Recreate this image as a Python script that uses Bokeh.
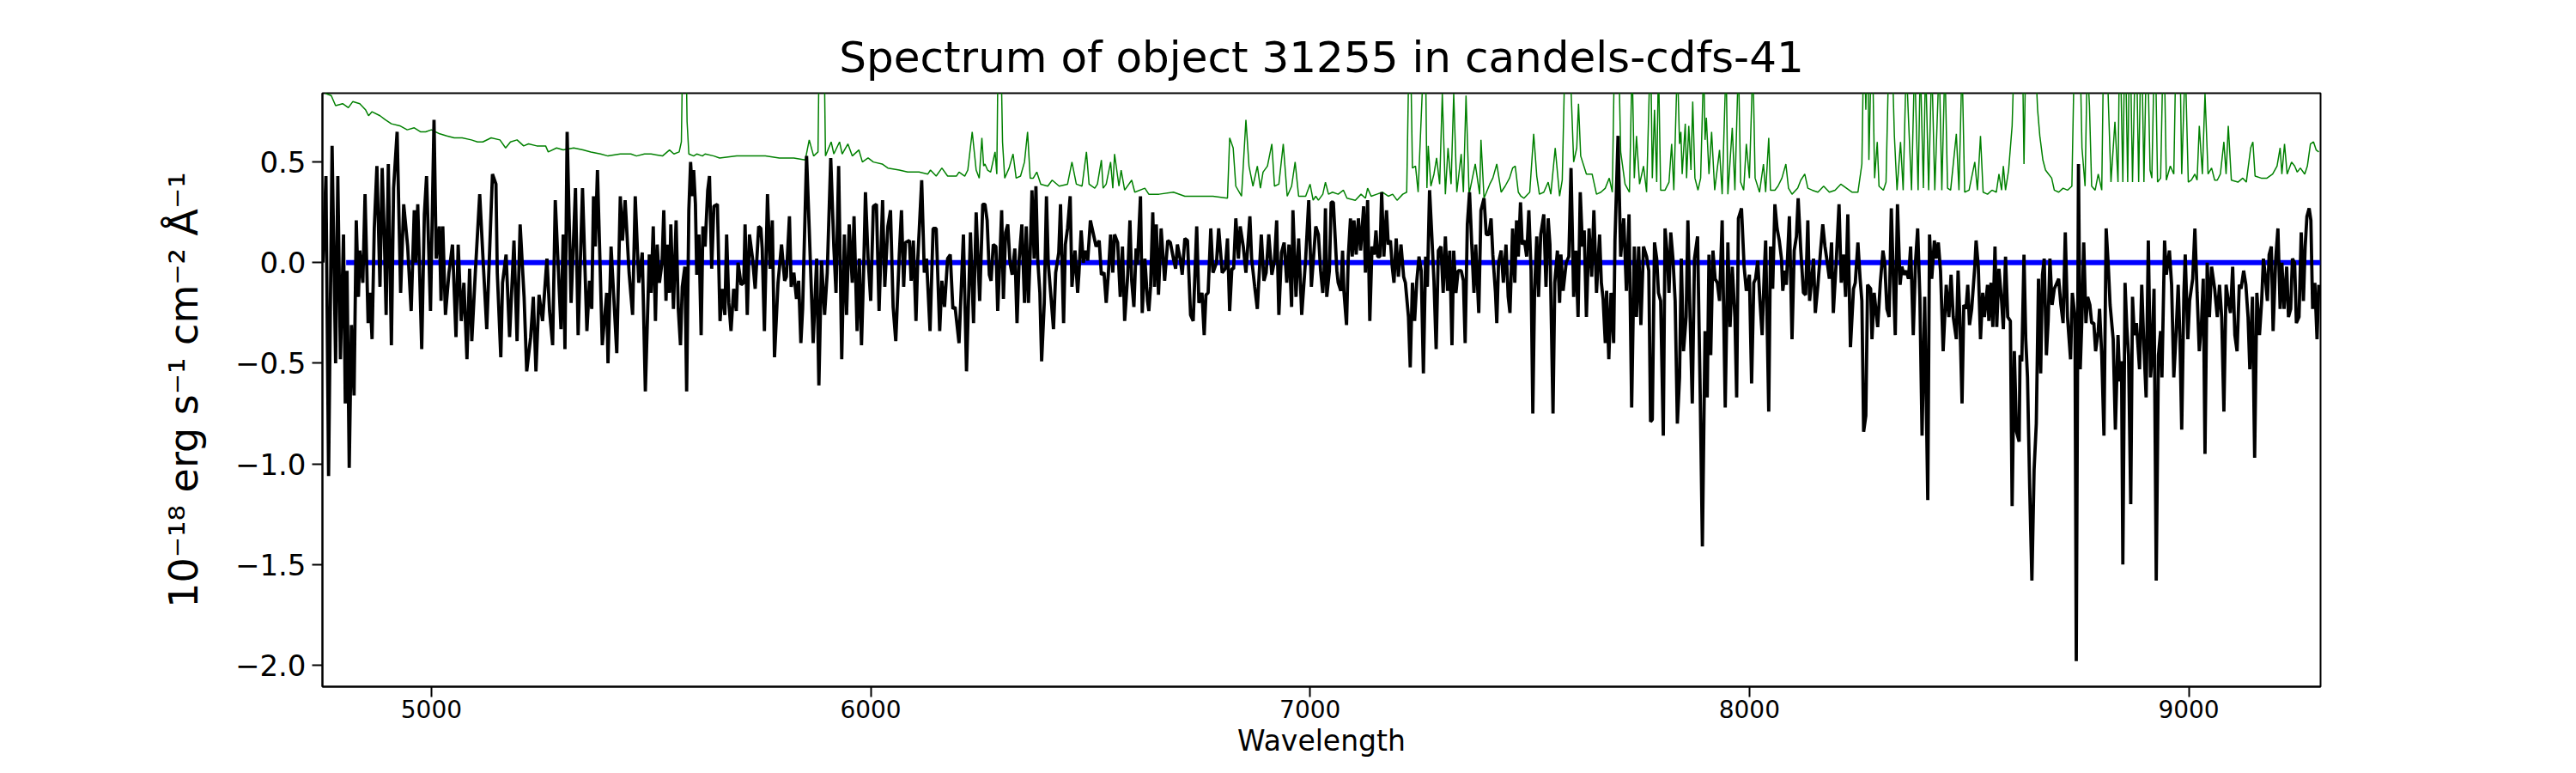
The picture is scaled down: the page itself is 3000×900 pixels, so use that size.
from bokeh.plotting import figure
from bokeh.models import FixedTicker, Range1d
from bokeh.embed import file_html
from bokeh.resources import INLINE

# ---------------- data (wavelength [A], flux [1e-18 erg/s/cm2/A]) ----------------
flux_seg1 = [(4753,0.00),(4760,0.43),(4766,-1.06),(4774,0.58),(4782,-0.50),(4787,0.43),(4793,-0.48),(4800,0.14),(4804,-0.70),(4808,-0.04),(4813,-1.02),(4818,-0.31),(4824,-0.66),(4829,0.21),(4834,-0.17),(4837,0.06),(4844,-0.10),(4849,0.34),(4856,-0.30),(4860,-0.15),(4865,-0.38),(4870,0.17),(4876,0.48),(4883,-0.12),(4888,0.47),(4893,0.12),(4897,-0.26),(4902,0.49),(4909,-0.41),(4914,0.37),(4922,0.65),(4930,-0.15),(4937,0.29),(4946,0.08),(4954,-0.24),(4961,0.26),(4964,0.00),(4969,0.29),(4978,-0.43),(4984,0.24),(4989,0.43),(4998,-0.24),(5006,0.71),(5011,0.02),(5018,0.18),(5022,-0.19),(5026,0.18),(5032,-0.26),(5040,-0.05),(5048,0.09),(5056,-0.37),(5061,0.09),(5068,-0.29),(5074,-0.10),(5081,-0.48),(5087,-0.03),(5092,-0.39),(5100,-0.05),(5110,0.34),(5118,0.00),(5126,-0.33),(5139,0.44),(5147,0.39),(5150,-0.05),(5158,-0.47),(5162,-0.10),(5170,0.04),(5178,-0.37),(5188,0.11),(5195,-0.39),(5202,0.19),(5211,-0.17),(5217,-0.54),(5226,-0.37),(5232,-0.17),(5238,-0.54),(5245,-0.16),(5253,-0.29),(5263,0.02),(5269,-0.24),(5276,-0.41),(5282,0.31),(5295,-0.33),(5300,0.14),(5304,-0.43),(5309,0.65),(5318,-0.20),(5328,0.37),(5334,-0.36),(5344,0.37),(5354,-0.34),(5360,-0.09),(5365,-0.23),(5369,0.33),(5373,0.08),(5378,0.46),(5389,-0.41),(5399,-0.15),(5402,-0.50),(5409,0.08),(5422,-0.45),(5430,0.33),(5435,0.11),(5441,0.31),(5450,-0.05),(5458,-0.26),(5464,0.33),(5472,-0.10),(5480,0.05),(5487,-0.64),(5496,0.04)]

flux_seg2 = [(5500,-0.15),(5505,0.18),(5510,-0.29),(5514,0.09),(5519,-0.10),(5525,0.00),(5529,0.26),(5534,-0.19),(5538,0.09),(5542,-0.15),(5545,0.19),(5551,-0.23),(5557,0.21),(5562,-0.23),(5567,-0.41),(5571,-0.12),(5577,-0.02),(5581,-0.64),(5586,0.26),(5590,0.50),(5594,0.33),(5597,0.46),(5601,0.29),(5604,-0.06),(5609,0.14),(5614,-0.36),(5618,0.18),(5623,0.08),(5629,0.36),(5633,0.43),(5638,-0.03),(5643,0.28),(5651,0.29),(5657,-0.29),(5662,-0.13),(5668,-0.26),(5672,0.14),(5677,-0.20),(5682,-0.34),(5688,-0.13),(5694,-0.24),(5698,0.00),(5705,-0.11),(5711,-0.10),(5714,0.19),(5719,-0.26),(5724,0.14),(5731,0.02),(5737,-0.13),(5745,0.18),(5750,0.17),(5753,0.07),(5758,-0.34),(5765,0.34),(5771,-0.03),(5776,0.21),(5781,-0.47),(5789,-0.10),(5797,0.09),(5804,-0.09),(5808,-0.07),(5815,0.23),(5819,-0.12),(5825,-0.05),(5831,-0.18),(5836,-0.09),(5841,-0.40),(5845,-0.23),(5854,0.53),(5860,0.17),(5869,-0.40),(5877,0.02),(5882,-0.61),(5888,0.01),(5895,-0.26),(5901,-0.05),(5909,0.52),(5916,0.08),(5921,-0.15),(5927,0.48),(5934,-0.48),(5940,0.14),(5945,-0.26),(5951,0.19),(5958,-0.10),(5962,0.23),(5969,-0.34),(5974,0.02),(5979,-0.41),(5984,-0.03),(5988,0.35),(5994,0.02),(6000,-0.19),(6006,0.28),(6013,0.29),(6019,-0.24),(6027,0.31),(6032,-0.12),(6039,0.18),(6045,0.26),(6051,-0.22),(6057,-0.39),(6065,0.04),(6070,0.26),(6075,-0.12),(6079,0.10),(6088,0.11),(6092,-0.09),(6097,0.11),(6103,-0.29),(6107,0.01),(6116,0.41),(6122,-0.05),(6127,0.02),(6135,-0.34),(6142,0.17),(6149,0.17),(6157,-0.34),(6162,-0.09),(6168,-0.22),(6175,0.02),(6181,0.04),(6187,-0.23),(6192,-0.22),(6201,-0.40),(6211,0.14),(6218,-0.54),(6227,0.15),(6234,-0.30),(6240,0.25),(6248,-0.19),(6255,0.29)]

flux_seg3 = [(6260,0.29),(6265,0.21),(6270,-0.06),(6274,-0.09),(6279,0.09),(6285,0.08),(6289,-0.24),(6294,0.02),(6298,0.26),(6302,-0.18),(6307,0.15),(6312,0.19),(6317,0.00),(6322,-0.06),(6328,0.07),(6333,-0.30),(6338,0.02),(6344,0.19),(6350,-0.20),(6354,0.18),(6359,-0.20),(6363,0.05),(6367,0.36),(6372,0.02),(6376,0.38),(6380,0.02),(6385,-0.15),(6389,-0.49),(6395,-0.20),(6400,0.33),(6404,0.00),(6411,-0.19),(6416,-0.33),(6421,-0.05),(6428,0.05),(6432,0.29),(6439,-0.30),(6443,0.09),(6448,0.17),(6454,0.33),(6458,-0.12),(6465,0.06),(6471,-0.15),(6474,-0.05),(6479,0.16),(6484,0.00),(6489,0.06),(6494,0.01),(6500,0.21),(6507,0.14),(6513,0.08),(6520,0.11),(6525,-0.06),(6531,-0.05),(6536,-0.20),(6541,-0.05),(6546,0.14),(6551,-0.05),(6555,0.14),(6562,0.10),(6568,-0.17),(6573,0.08),(6578,-0.29),(6585,-0.06),(6590,0.21),(6594,-0.09),(6599,-0.22),(6604,0.07),(6607,-0.01),(6614,0.33),(6618,-0.25),(6624,0.02),(6630,-0.19),(6633,-0.24),(6637,-0.12),(6642,0.25),(6646,-0.12),(6650,0.19),(6655,-0.16),(6661,0.17),(6666,0.01),(6669,-0.09),(6676,0.11),(6682,0.10),(6689,0.02),(6694,-0.03),(6698,0.09),(6705,0.01),(6709,-0.06),(6715,0.12),(6721,0.11),(6728,-0.26),(6734,-0.29),(6742,0.18),(6747,-0.20),(6754,-0.15),(6759,-0.36),(6763,-0.16),(6768,-0.15),(6774,0.17),(6779,-0.05),(6787,0.00),(6792,0.17),(6800,-0.05),(6807,-0.03),(6812,0.12),(6817,-0.24),(6822,-0.03),(6826,-0.03),(6831,0.22),(6837,0.02),(6841,0.18),(6848,0.08),(6854,-0.05),(6863,0.23),(6867,0.02),(6874,-0.12),(6880,-0.23),(6889,0.14),(6895,-0.09),(6900,-0.05),(6906,0.14),(6913,-0.06),(6919,0.01),(6924,0.21),(6929,-0.26),(6935,0.05),(6941,0.10),(6947,-0.10),(6952,0.09),(6958,-0.22),(6961,0.26),(6968,-0.17),(6974,0.12),(6981,-0.26),(6990,0.02),(6997,0.31),(7003,-0.12),(7013,0.18)]

flux_seg4 = [(7019,0.14),(7024,-0.04),(7029,-0.15),(7032,-0.04),(7035,0.27),(7038,-0.17),(7044,-0.04),(7048,0.30),(7053,0.30),(7057,0.13),(7061,-0.04),(7064,-0.10),(7070,-0.14),(7074,0.06),(7077,-0.14),(7083,-0.31),(7087,0.03),(7092,0.22),(7096,0.03),(7100,0.21),(7105,0.04),(7110,0.22),(7115,0.06),(7122,0.28),(7126,-0.05),(7131,0.31),(7136,-0.29),(7141,0.08),(7146,0.04),(7150,0.16),(7154,0.03),(7159,0.03),(7163,0.35),(7168,0.03),(7174,0.26),(7178,0.09),(7183,0.11),(7187,-0.02),(7191,-0.10),(7196,0.12),(7201,-0.07),(7207,0.09),(7213,-0.07),(7217,-0.10),(7224,-0.27),(7228,-0.52),(7233,-0.10),(7238,-0.29),(7243,-0.09),(7248,0.03),(7253,-0.04),(7258,-0.55),(7263,0.03),(7267,-0.12),(7272,0.36),(7277,0.14),(7282,-0.09),(7287,-0.43),(7292,0.06),(7298,0.08),(7303,-0.15),(7308,0.13),(7313,-0.14),(7318,0.06),(7323,-0.41),(7327,0.06),(7332,-0.15),(7337,-0.04),(7344,-0.04),(7349,-0.09),(7353,-0.40),(7358,0.19),(7363,0.35),(7368,0.09),(7373,-0.15),(7377,0.09),(7384,-0.25),(7389,0.26),(7396,0.32),(7401,0.14),(7407,0.14),(7412,0.22),(7416,0.04),(7422,-0.15),(7425,-0.30),(7429,0.00),(7435,0.06),(7440,-0.10),(7446,0.09),(7451,-0.17),(7455,-0.25),(7461,0.17),(7466,-0.10),(7470,0.21),(7474,0.03),(7479,0.30),(7483,0.09),(7488,0.11),(7493,0.03),(7498,0.26),(7503,-0.04),(7507,-0.75),(7511,-0.14),(7516,0.13),(7520,-0.17),(7525,0.14),(7532,0.24),(7537,-0.12),(7542,0.22),(7546,0.09),(7553,-0.75),(7557,-0.10),(7563,0.06),(7568,-0.20),(7571,0.04),(7576,-0.14),(7583,0.00),(7589,0.03),(7594,0.47),(7600,-0.17),(7605,0.06),(7610,-0.27),(7615,0.35),(7620,0.08),(7624,0.16),(7629,-0.27),(7635,0.17),(7641,-0.07),(7646,0.26),(7652,-0.15),(7659,0.14),(7663,-0.10),(7667,-0.18),(7672,-0.40),(7675,-0.14),(7680,-0.48),(7685,-0.15),(7691,-0.40),(7694,0.11),(7701,0.63),(7707,0.03),(7714,0.22),(7720,-0.14),(7726,0.24),(7732,-0.72),(7738,0.08),(7743,-0.27),(7748,0.08),(7753,-0.31),(7759,0.08),(7766,0.03),(7771,-0.04),(7775,-0.79)]

flux_seg5 = [(7779,-0.78),(7784,0.10),(7789,0.02),(7793,-0.15),(7798,-0.19),(7804,-0.86),(7808,0.17),(7813,0.04),(7817,-0.15),(7821,0.15),(7826,0.02),(7831,-0.19),(7836,-0.80),(7841,-0.57),(7845,0.02),(7850,-0.44),(7856,-0.27),(7860,0.21),(7865,-0.27),(7870,-0.70),(7875,0.02),(7882,0.13),(7888,-0.65),(7893,-1.41),(7899,-0.34),(7904,-0.67),(7908,0.04),(7912,-0.46),(7917,0.06),(7922,-0.08),(7927,-0.10),(7932,-0.19),(7938,0.21),(7945,-0.72),(7951,0.10),(7956,-0.32),(7961,-0.02),(7967,-0.27),(7971,-0.67),(7975,0.22),(7982,0.27),(7988,-0.02),(7993,-0.14),(8000,-0.06),(8005,-0.60),(8010,-0.10),(8014,-0.08),(8019,0.01),(8024,-0.19),(8029,-0.36),(8034,-0.04),(8037,0.11),(8044,-0.74),(8048,0.08),(8053,-0.13),(8058,0.29),(8063,0.17),(8068,0.11),(8073,0.02),(8076,-0.14),(8081,-0.04),(8084,-0.11),(8091,0.23),(8097,-0.38),(8102,0.06),(8107,0.13),(8111,0.32),(8117,0.06),(8123,-0.15),(8128,-0.16),(8133,0.21),(8137,-0.19),(8141,-0.10),(8146,0.02),(8150,-0.25),(8156,-0.11),(8162,0.06),(8167,0.19),(8172,0.08),(8176,0.02),(8182,-0.08),(8187,0.10),(8191,-0.25),(8198,0.02),(8204,0.29),(8209,-0.10),(8214,0.04),(8219,-0.17),(8224,0.24),(8230,-0.42),(8237,-0.13),(8241,-0.10),(8247,0.10),(8252,-0.08),(8256,-0.19),(8260,-0.84),(8265,-0.76),(8269,-0.11),(8276,-0.13),(8279,-0.38),(8284,-0.15),(8292,-0.32),(8298,-0.10),(8304,0.06),(8308,0.00),(8313,-0.23),(8318,-0.27),(8323,0.27),(8328,-0.10),(8332,-0.36),(8337,0.29),(8343,-0.11),(8347,-0.02),(8352,-0.06),(8357,-0.04),(8362,-0.08),(8367,0.08),(8373,-0.36),(8378,0.00),(8383,0.17),(8388,-0.17),(8393,-0.86),(8399,-0.17),(8406,-1.18),(8410,0.14),(8415,-0.08),(8421,0.11),(8425,0.02),(8430,0.10),(8435,-0.04),(8441,-0.44),(8448,-0.11),(8454,-0.27),(8459,-0.06),(8464,-0.27),(8471,-0.38),(8475,-0.04),(8479,-0.27),(8484,-0.70),(8488,-0.21),(8493,-0.23),(8497,-0.11),(8501,-0.31),(8506,-0.23),(8513,-0.02),(8516,0.11),(8521,-0.02),(8526,-0.38),(8531,-0.15),(8535,-0.27)]

flux_seg6 = [(8542,-0.11),(8545,-0.29),(8550,-0.10),(8554,-0.32),(8559,0.08),(8563,-0.32),(8568,-0.03),(8574,-0.19),(8578,-0.33),(8583,0.03),(8588,-0.27),(8594,-0.29),(8598,-1.21),(8603,-0.44),(8608,-0.84),(8614,-0.89),(8616,-0.46),(8620,-0.49),(8625,0.04),(8629,-0.38),(8633,-0.57),(8638,-1.12),(8643,-1.58),(8648,-1.03),(8653,-0.80),(8658,-0.08),(8663,-0.55),(8667,-0.06),(8671,0.02),(8676,-0.46),(8680,-0.29),(8684,0.02),(8689,-0.21),(8694,-0.13),(8700,-0.10),(8704,-0.08),(8709,-0.21),(8714,-0.30),(8719,0.15),(8724,-0.27),(8731,-0.48),(8735,-0.15),(8741,-0.27),(8744,-1.98),(8749,0.49),(8753,-0.53),(8757,-0.27),(8761,0.10),(8766,-0.30),(8770,-0.17),(8775,-0.21),(8779,-0.30),(8784,-0.30),(8788,-0.44),(8794,-0.34),(8797,-0.23),(8802,-0.46),(8807,-0.86),(8812,0.17),(8817,-0.02),(8821,-0.21),(8828,-0.38),(8833,-0.83),(8839,-0.36),(8843,-0.59),(8847,-0.49),(8850,-1.50),(8855,-0.10),(8859,-0.32),(8863,-0.46),(8868,-1.20),(8872,-0.17),(8876,-0.36),(8881,-0.30),(8888,-0.53),(8893,-0.11),(8898,-0.42),(8903,-0.67),(8908,0.11),(8913,-0.57),(8916,-0.48),(8921,-0.13),(8926,-1.58),(8931,-0.46),(8936,-0.34),(8939,-0.57),(8945,0.11),(8949,-0.06),(8956,0.06),(8961,-0.11),(8966,-0.57),(8971,-0.36),(8976,-0.11),(8980,-0.38),(8984,-0.83),(8989,-0.15),(8992,0.04),(8998,-0.38),(9002,-0.19),(9009,-0.08),(9014,0.17),(9019,-0.15),(9024,-0.44),(9029,-0.30),(9033,-0.08),(9037,-0.95),(9042,0.00),(9047,-0.27),(9052,-0.02),(9059,-0.13),(9065,-0.27),(9070,-0.11),(9075,-0.27),(9080,-0.74),(9085,-0.11),(9090,-0.19),(9095,-0.25),(9100,-0.02),(9105,-0.36),(9110,-0.44),(9115,-0.11),(9119,-0.13),(9125,-0.04),(9130,-0.11),(9135,-0.27),(9139,-0.53),(9145,-0.17),(9150,-0.97),(9155,-0.15),(9161,-0.36),(9166,-0.19),(9170,0.02),(9174,-0.06),(9179,-0.19),(9183,0.04),(9188,0.08),(9192,-0.34),(9198,0.02),(9203,0.17),(9208,-0.23),(9212,0.00),(9217,-0.23),(9223,-0.02),(9227,-0.27),(9232,-0.23),(9236,0.02),(9241,0.00),(9245,-0.30),(9251,-0.27),(9256,0.15),(9261,-0.19),(9265,0.08),(9269,0.23),(9274,0.27),(9278,0.21),(9282,-0.23),(9287,-0.10),(9292,-0.38),(9296,-0.11)]

# noise (error) spectrum, same units
err_seg1 = [(4752,0.92),(4760,0.84),(4772,0.83),(4782,0.78),(4798,0.79),(4811,0.77),(4821,0.80),(4837,0.79),(4850,0.76),(4857,0.73),(4865,0.75),(4883,0.73),(4895,0.71),(4909,0.69),(4928,0.68),(4945,0.66),(4961,0.67),(4975,0.65),(4987,0.65),(5000,0.66),(5019,0.64),(5035,0.63),(5052,0.62),(5070,0.62),(5091,0.61),(5105,0.60),(5117,0.60),(5136,0.62),(5156,0.61),(5169,0.57),(5180,0.60),(5195,0.61),(5210,0.58),(5221,0.59),(5240,0.58),(5260,0.58),(5266,0.55),(5285,0.57),(5300,0.56),(5324,0.57),(5345,0.56),(5363,0.55),(5385,0.54),(5402,0.53),(5430,0.54),(5454,0.54),(5467,0.53),(5485,0.54)]
err_seg2 = [(5500,0.54),(5526,0.53),(5542,0.56),(5552,0.54),(5564,0.55),(5569,0.60),(5573,1.20),(5578,1.30),(5582,0.70),(5586,0.54),(5597,0.53),(5604,0.54),(5617,0.53),(5623,0.54),(5643,0.53),(5656,0.52),(5695,0.53),(5727,0.53),(5760,0.53),(5792,0.52),(5825,0.52),(5851,0.51),(5860,0.61),(5870,0.53),(5880,0.55),(5885,1.50),(5892,1.40),(5897,0.53),(5910,0.60),(5916,0.54),(5929,0.60),(5935,0.54),(5948,0.59),(5958,0.53),(5973,0.56),(5981,0.50),(5994,0.52),(6006,0.50),(6026,0.49),(6039,0.47),(6065,0.46),(6084,0.45),(6110,0.45),(6130,0.44),(6136,0.46),(6149,0.43),(6162,0.47),(6175,0.43),(6195,0.43),(6201,0.45),(6214,0.43),(6221,0.46),(6231,0.65),(6240,0.46),(6247,0.42),(6253,0.62),(6257,0.48)]
err_seg3 = [(6260,0.49),(6266,0.46),(6273,0.45),(6283,0.55),(6287,0.44),(6291,1.30),(6296,1.10),(6300,0.60),(6305,0.42),(6315,0.47),(6324,0.54),(6331,0.42),(6341,0.43),(6350,0.50),(6357,0.65),(6363,0.42),(6370,0.42),(6378,0.45),(6387,0.39),(6403,0.38),(6413,0.41),(6429,0.38),(6448,0.39),(6458,0.50),(6468,0.39),(6481,0.38),(6491,0.55),(6497,0.39),(6510,0.37),(6516,0.39),(6525,0.51),(6529,0.37),(6536,0.39),(6546,0.50),(6551,0.37),(6555,0.54),(6565,0.38),(6570,0.46),(6578,0.36),(6594,0.41),(6601,0.35),(6624,0.37),(6633,0.34),(6656,0.34),(6689,0.35),(6715,0.33),(6754,0.33),(6779,0.33),(6812,0.32),(6817,0.62),(6825,0.57),(6831,0.38),(6844,0.33),(6854,0.71),(6861,0.48),(6870,0.38),(6880,0.48),(6887,0.37),(6893,0.45),(6903,0.48),(6913,0.59),(6919,0.38),(6929,0.39),(6939,0.59),(6948,0.33),(6958,0.38),(6966,0.50),(6974,0.33),(6990,0.33),(7000,0.39),(7007,0.31),(7013,0.33)]
err_seg4 = [(7019,0.31),(7029,0.34),(7035,0.40),(7042,0.34),(7051,0.35),(7064,0.34),(7076,0.36),(7084,0.32),(7103,0.31),(7116,0.34),(7126,0.32),(7131,0.37),(7139,0.33),(7152,0.34),(7165,0.35),(7178,0.33),(7188,0.34),(7198,0.31),(7211,0.34),(7220,0.35),(7227,1.30),(7233,0.47),(7240,0.48),(7246,0.35),(7262,1.20),(7266,0.37),(7269,0.58),(7275,0.38),(7282,0.44),(7288,0.52),(7295,0.39),(7301,0.84),(7308,0.34),(7314,0.57),(7321,0.39),(7327,0.84),(7334,0.35),(7344,0.54),(7349,0.35),(7355,0.83),(7362,0.34),(7376,0.49),(7386,0.34),(7389,0.61),(7396,0.32),(7409,0.39),(7416,0.42),(7425,0.49),(7435,0.35),(7444,0.38),(7454,0.42),(7461,0.47),(7467,0.48),(7474,0.35),(7480,0.33),(7487,0.32),(7500,0.35),(7509,0.64),(7516,0.43),(7522,0.34),(7532,0.35),(7542,0.40),(7548,0.34),(7558,0.57),(7568,0.33),(7574,0.41),(7581,1.10),(7590,1.10),(7600,0.50),(7607,0.57),(7611,0.79),(7616,0.53),(7629,0.44),(7642,0.44),(7652,0.34),(7662,0.35),(7672,0.37),(7681,0.42),(7688,0.35),(7694,1.20),(7701,1.20),(7707,0.55),(7717,0.39),(7727,0.35),(7733,1.00),(7738,0.42),(7743,0.63),(7750,0.39),(7759,0.48),(7766,0.35),(7775,1.10)]
err_seg5 = [(7779,0.42),(7784,0.76),(7789,0.40),(7793,1.00),(7798,0.36),(7808,0.36),(7817,0.40),(7823,0.59),(7828,0.36),(7836,1.00),(7841,0.59),(7844,0.65),(7847,0.44),(7854,0.69),(7857,0.42),(7862,0.68),(7867,0.46),(7871,0.80),(7876,0.42),(7883,0.36),(7889,0.42),(7896,1.00),(7899,0.61),(7902,0.72),(7908,0.44),(7914,0.65),(7921,0.36),(7932,0.56),(7938,0.34),(7947,1.00),(7951,0.34),(7961,0.67),(7967,0.36),(7975,1.00),(7980,0.40),(7987,0.36),(7993,0.59),(8000,0.42),(8008,1.00),(8013,0.42),(8023,0.35),(8032,0.49),(8037,0.35),(8044,0.62),(8048,0.36),(8058,0.36),(8065,0.38),(8074,0.42),(8083,0.49),(8089,0.37),(8097,0.34),(8110,0.37),(8117,0.41),(8126,0.44),(8133,0.37),(8143,0.36),(8156,0.35),(8169,0.38),(8182,0.35),(8195,0.36),(8208,0.39),(8221,0.37),(8234,0.35),(8247,0.35),(8256,0.49),(8261,1.20),(8265,0.76),(8269,1.20),(8272,0.51),(8279,1.20),(8285,0.42),(8291,0.60),(8295,0.38),(8305,0.36),(8311,0.40),(8318,1.10),(8324,1.10),(8330,0.63),(8336,0.36),(8344,0.60),(8350,0.36),(8357,1.00),(8362,0.72),(8369,0.36),(8376,1.00),(8384,0.36),(8389,1.00),(8396,0.37),(8401,1.00),(8408,0.36),(8415,1.00),(8422,0.36),(8432,1.00),(8438,0.36),(8445,1.00),(8451,0.37),(8458,0.36),(8471,0.64),(8477,0.36),(8484,1.00),(8490,0.35),(8500,0.36),(8513,0.50),(8519,0.36),(8526,0.63),(8532,0.35)]
err_seg6 = [(8542,0.34),(8552,0.36),(8562,0.35),(8568,0.44),(8574,0.36),(8578,0.48),(8583,0.36),(8590,0.46),(8598,0.68),(8605,1.20),(8615,1.40),(8620,1.30),(8625,0.49),(8631,1.30),(8641,1.40),(8651,1.00),(8656,0.76),(8661,0.63),(8668,0.51),(8674,0.46),(8681,0.44),(8688,0.42),(8694,0.36),(8704,0.35),(8714,0.37),(8724,0.36),(8734,0.38),(8741,1.20),(8747,1.20),(8753,1.00),(8757,0.57),(8764,0.38),(8769,1.00),(8774,0.78),(8779,0.38),(8787,0.36),(8794,0.44),(8802,0.36),(8807,1.20),(8812,1.20),(8817,0.80),(8823,0.40),(8832,0.70),(8839,0.40),(8843,1.20),(8850,0.40),(8855,1.20),(8861,0.40),(8866,1.20),(8872,0.40),(8880,1.20),(8886,0.40),(8892,1.20),(8898,0.40),(8905,1.20),(8912,0.46),(8916,0.42),(8923,1.20),(8929,0.40),(8936,0.42),(8943,1.20),(8949,0.41),(8958,0.48),(8966,0.44),(8972,1.20),(8979,1.20),(8984,0.44),(8992,1.00),(8999,0.40),(9006,0.41),(9014,0.44),(9019,0.41),(9024,0.68),(9031,0.44),(9037,0.84),(9044,0.44),(9052,0.47),(9059,0.41),(9065,0.41),(9072,0.44),(9080,0.60),(9085,0.44),(9090,0.68),(9097,0.41),(9112,0.40),(9123,0.42),(9131,0.40),(9141,0.57),(9146,0.60),(9151,0.43),(9165,0.42),(9178,0.42),(9191,0.44),(9201,0.48),(9208,0.57),(9212,0.44),(9218,0.59),(9224,0.44),(9234,0.50),(9241,0.48),(9247,0.45),(9254,0.47),(9264,0.44),(9270,0.48),(9277,0.59),(9284,0.60),(9290,0.56),(9296,0.55)]

# model (flat continuum)
model_wavelength = [4806, 9300]
model_flux = [0.0, 0.0]

x_ticks = [5000, 6000, 7000, 8000, 9000]
y_ticks = [-2.0, -1.5, -1.0, -0.5, 0.0, 0.5]
y_tick_labels = ["\u22122.0", "\u22121.5", "\u22121.0", "\u22120.5", "0.0", "0.5"]

title_text = "Spectrum of object 31255 in candels-cdfs-41"
x_label = "Wavelength"
y_label = "10\u207b\u00b9\u2078 erg s\u207b\u00b9 cm\u207b\u00b2 \u00c5\u207b\u00b9"


def unpack(*segments):
    wl, val = [], []
    for seg in segments:
        for a, b in seg:
            wl.append(a)
            val.append(b)
    return wl, val


flux_wl, flux_val = unpack(flux_seg1, flux_seg2, flux_seg3, flux_seg4, flux_seg5, flux_seg6)
err_wl, err_val = unpack(err_seg1, err_seg2, err_seg3, err_seg4, err_seg5, err_seg6)

FONT = "DejaVu Sans"

p = figure(width=2984, height=884,
           x_range=Range1d(4752, 9300), y_range=Range1d(-2.107, 0.842),
           output_backend="svg", toolbar_location=None,
           min_border_left=375, min_border_right=282,
           min_border_top=108, min_border_bottom=80,
           title=title_text)

p.line(err_wl, err_val, line_color="#008000", line_width=1.5)
p.line(model_wavelength, model_flux, line_color="#0000ff", line_width=6)
p.line(flux_wl, flux_val, line_color="black", line_width=3.8)

p.grid.visible = False
p.outline_line_color = "black"
p.outline_line_width = 2
p.outline_line_alpha = 1.0
p.background_fill_color = "white"
p.border_fill_color = "white"

p.title.text_font = FONT
p.title.text_font_size = "50px"
p.title.text_font_style = "normal"
p.title.text_color = "black"
p.title.align = "center"
p.title.standoff = 26

for ax in (p.xaxis[0], p.yaxis[0]):
    ax.axis_line_width = 2
    ax.axis_line_color = "black"
    ax.major_tick_line_width = 2
    ax.major_tick_line_color = "black"
    ax.major_tick_in = 0
    ax.major_tick_out = 12
    ax.minor_tick_line_color = None
    ax.major_label_text_font = FONT
    ax.major_label_text_color = "black"
    ax.axis_label_text_font = FONT
    ax.axis_label_text_font_style = "normal"
    ax.axis_label_text_color = "black"

xa = p.xaxis[0]
xa.ticker = FixedTicker(ticks=x_ticks)
xa.major_label_text_font_size = "28px"
xa.major_label_standoff = 3
xa.axis_label = x_label
xa.axis_label_text_font_size = "33px"
xa.axis_label_standoff = 4
xa.major_label_text_line_height = 1.0
xa.axis_label_text_line_height = 1.0

ya = p.yaxis[0]
ya.ticker = FixedTicker(ticks=y_ticks)
ya.major_label_overrides = dict(zip(y_ticks, y_tick_labels))
ya.major_label_text_font_size = "34px"
ya.major_label_standoff = 7
ya.axis_label = y_label
ya.axis_label_text_font_size = "46px"
ya.axis_label_standoff = 30

open("out.html", "w").write(file_html(p, INLINE))
